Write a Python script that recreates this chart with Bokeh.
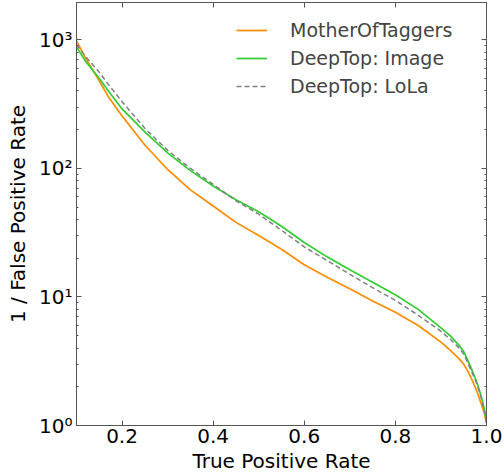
from bokeh.plotting import figure
from bokeh.models import (Range1d, LinearAxis, LogAxis, FixedTicker, LogTicker,
                          PrintfTickFormatter, CustomJSTickFormatter, Legend, LegendItem)
from bokeh.embed import file_html
from bokeh.resources import INLINE

# ---- data ----
tpr = [0.10, 0.12, 0.15, 0.17, 0.20, 0.25, 0.30, 0.35, 0.40, 0.45, 0.50, 0.55,
       0.60, 0.65, 0.70, 0.75, 0.80, 0.85, 0.90, 0.92, 0.94, 0.95, 0.96, 0.97,
       0.975, 0.98, 0.985, 0.99, 0.995, 1.00]
mother_of_taggers = [980, 720, 480, 360, 255, 152, 98, 68, 51, 38, 30, 23.5,
                     17.8, 14.2, 11.6, 9.3, 7.6, 6.0, 4.45, 3.85, 3.3, 3.0, 2.6, 2.2,
                     2.0, 1.8, 1.6, 1.42, 1.25, 1.05]
deeptop_image = [880, 680, 500, 400, 290, 192, 132, 96, 73, 57, 46, 35.5,
                 26.5, 20.5, 16.3, 13.0, 10.4, 8.0, 5.75, 5.0, 4.2, 3.75, 3.15, 2.6,
                 2.35, 2.1, 1.85, 1.6, 1.35, 1.05]
deeptop_lola = [920, 740, 560, 450, 330, 205, 138, 100, 75, 56, 44, 33,
                24.5, 19.2, 15.0, 11.8, 9.4, 7.2, 5.4, 4.7, 4.0, 3.6, 3.0, 2.5,
                2.28, 2.05, 1.8, 1.57, 1.33, 1.05]
series_names = ["MotherOfTaggers", "DeepTop: Image", "DeepTop: LoLa"]
x_ticks = [0.2, 0.4, 0.6, 0.8, 1.0]
y_tick_labels = {1: "10\u2070", 10: "10\u00b9", 100: "10\u00b2", 1000: "10\u00b3"}

FONT = "DejaVu Sans"
FRAME = "#555555"

p = figure(frame_width=410, frame_height=423, x_range=Range1d(0.1, 1.0), y_range=Range1d(1, 1950),
           y_axis_type="log", output_backend="svg", toolbar_location=None,
           min_border_left=76, min_border_right=17, min_border_top=2, min_border_bottom=48,
           background_fill_color="white", border_fill_color="white")
p.grid.visible = False
p.outline_line_color = FRAME

r1 = p.line(tpr, mother_of_taggers, line_color="#ff8c00", line_width=1.7)
r2 = p.line(tpr, deeptop_image, line_color="#32cd32", line_width=1.7)
r3 = p.line(tpr, deeptop_lola, line_color="#808080", line_width=1.5, line_dash="5 3")

# bottom axis
xa = p.xaxis[0]
xa.ticker = FixedTicker(ticks=x_ticks, minor_ticks=[])
xa.formatter = PrintfTickFormatter(format="%.1f")
xa.axis_label = "True Positive Rate"
# left axis
ya = p.yaxis[0]
ya.ticker = LogTicker(num_minor_ticks=10)
ya.major_label_overrides = y_tick_labels
ya.axis_label = "1 / False Positive Rate"

for ax in (xa, ya):
    ax.major_label_text_font = FONT
    ax.major_label_text_font_size = "20px"
    ax.major_label_text_color = "black"
    ax.axis_label_text_font = FONT
    ax.axis_label_text_font_size = "20px"
    ax.axis_label_text_font_style = "normal"
    ax.axis_label_text_color = "black"
    ax.axis_line_color = FRAME
    ax.major_tick_line_color = FRAME
    ax.minor_tick_line_color = FRAME
    ax.major_tick_in = 5
    ax.major_tick_out = 0
    ax.minor_tick_in = 2
    ax.minor_tick_out = 0
xa.major_label_standoff = 3
xa.axis_label_standoff = 3
ya.major_label_standoff = 4
ya.axis_label_standoff = 6

empty = CustomJSTickFormatter(code="return ''")
top = LinearAxis(ticker=FixedTicker(ticks=x_ticks, minor_ticks=[]), formatter=empty,
                 major_label_text_color=None, major_label_standoff=0,
                 axis_line_color=FRAME, major_tick_line_color=FRAME,
                 major_tick_in=5, major_tick_out=0, minor_tick_in=0, minor_tick_out=0)
right = LogAxis(ticker=LogTicker(num_minor_ticks=10), formatter=empty,
                major_label_text_color=None, major_label_standoff=0,
                axis_line_color=FRAME, major_tick_line_color=FRAME, minor_tick_line_color=FRAME,
                major_tick_in=5, major_tick_out=0, minor_tick_in=2, minor_tick_out=0)
p.add_layout(top, "above")
p.add_layout(right, "right")

legend = Legend(items=[LegendItem(label=series_names[0], renderers=[r1]),
                       LegendItem(label=series_names[1], renderers=[r2]),
                       LegendItem(label=series_names[2], renderers=[r3])],
                location=(160, 328), padding=0, margin=0, spacing=6,
                glyph_width=31, glyph_height=20, label_height=20, label_standoff=23,
                label_text_font=FONT, label_text_font_size="19px",
                border_line_color=None, background_fill_alpha=0)
p.add_layout(legend)

open("out.html", "w").write(file_html(p, INLINE))
